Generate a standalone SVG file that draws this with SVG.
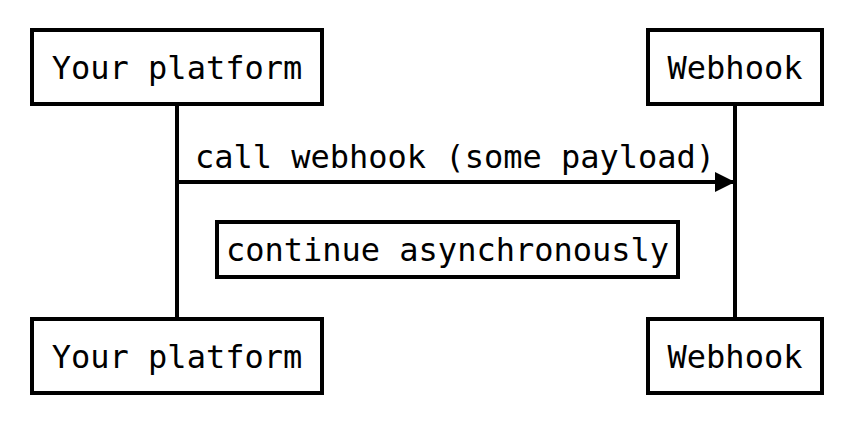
<svg xmlns="http://www.w3.org/2000/svg" width="868" height="430" viewBox="0 0 868 430">
<style>
.box{fill:#fff;stroke:#000;stroke-width:4}
.t{font-family:"DejaVu Sans Mono","Liberation Mono",monospace;font-size:32px;fill:#000;text-anchor:middle}
.line{stroke:#000;stroke-width:4;fill:none}
</style>
<defs>
<marker id="ah" markerWidth="20" markerHeight="20" viewBox="0 0 20 20" refX="20" refY="10" orient="auto" markerUnits="userSpaceOnUse">
<path d="M0,0 L20,10 L0,20 Z" fill="#000"/>
</marker>
</defs>
<rect width="868" height="430" fill="#fff"/>
<g id="connectors">
<line class="line" x1="177" y1="104" x2="177" y2="319"/>
<line class="line" x1="735" y1="104" x2="735" y2="319"/>
<line class="line" x1="177" y1="182" x2="735" y2="182" marker-end="url(#ah)"/>
<text class="t" x="455" y="168">call webhook (some payload)</text>
</g>
<g id="platform-top">
<rect class="box" x="32" y="30" width="290" height="74"/>
<text class="t" x="177" y="79">Your platform</text>
</g>
<g id="webhook-top">
<rect class="box" x="648" y="30" width="174" height="74"/>
<text class="t" x="735" y="79">Webhook</text>
</g>
<g id="note">
<rect class="box" x="217" y="222" width="461" height="55"/>
<text class="t" x="447.5" y="261">continue asynchronously</text>
</g>
<g id="platform-bottom">
<rect class="box" x="32" y="319" width="290" height="74"/>
<text class="t" x="177" y="368">Your platform</text>
</g>
<g id="webhook-bottom">
<rect class="box" x="648" y="319" width="174" height="74"/>
<text class="t" x="735" y="368">Webhook</text>
</g>
</svg>
